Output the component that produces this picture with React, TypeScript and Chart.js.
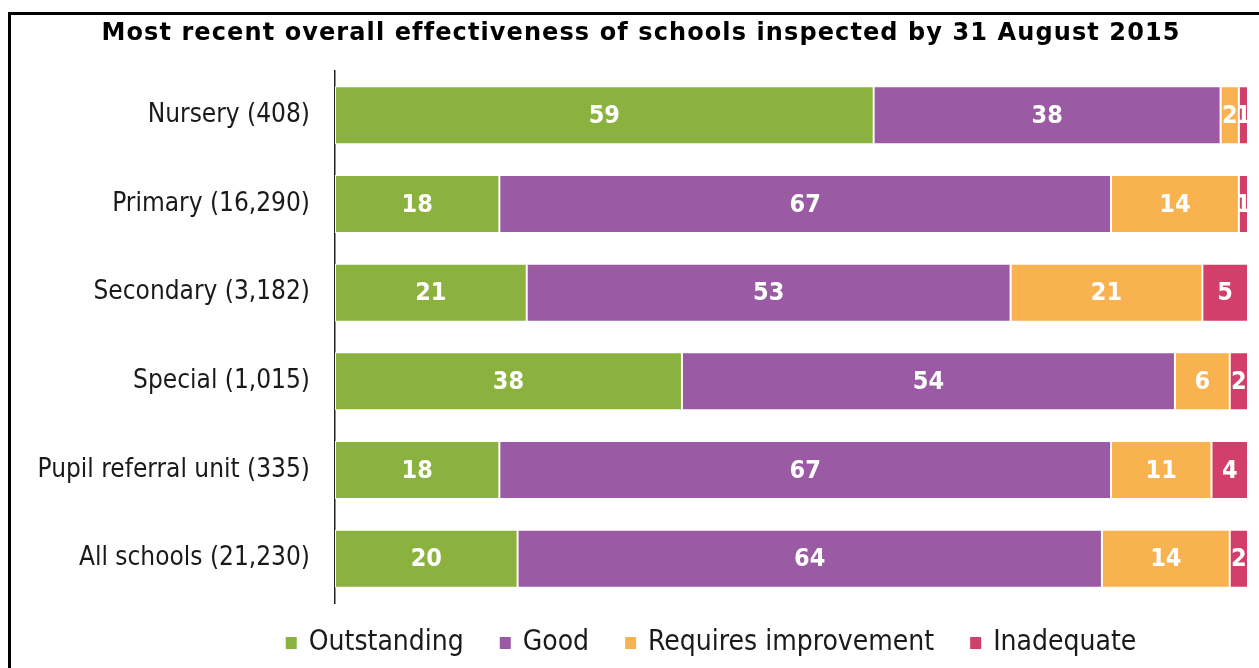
import React, { useEffect, useRef } from "react";
import { Chart, registerables } from "chart.js";

Chart.register(...registerables);

const categories = [
  "Nursery (408)",
  "Primary (16,290)",
  "Secondary (3,182)",
  "Special (1,015)",
  "Pupil referral unit (335)",
  "All schools (21,230)",
];
const outstanding = [59, 18, 21, 38, 18, 20];
const good = [38, 67, 53, 54, 67, 64];
const requiresImprovement = [2, 14, 21, 6, 11, 14];
const inadequate = [1, 1, 5, 2, 4, 2];
const seriesNames = ["Outstanding", "Good", "Requires improvement", "Inadequate"];
const seriesColors = ["#8BB23F", "#9A5BA4", "#F8B24F", "#D13F6A"];
const titleText = "Most recent overall effectiveness of schools inspected by 31 August 2015";

const COND_FONT = "'DejaVu Sans Condensed', 'DejaVu Sans', sans-serif";
const TITLE_FONT = "'DejaVu Sans', sans-serif";

const titlePlugin = {
  id: "centerTitle",
  afterDraw(chart: any) {
    const ctx = chart.ctx;
    ctx.save();
    ctx.font = `bold 24px ${TITLE_FONT}`;
    try {
      (ctx as any).letterSpacing = "1.1px";
    } catch (e) {}
    ctx.fillStyle = "#000";
    ctx.textAlign = "center";
    ctx.textBaseline = "alphabetic";
    ctx.fillText(titleText, 641, 39.5);
    ctx.restore();
  },
};

const legendPlugin = {
  id: "customLegend",
  afterDraw(chart: any) {
    const ctx = chart.ctx;
    ctx.save();
    ctx.font = `28px ${COND_FONT}`;
    const box = 11;
    const boxGap = 12;
    const itemGap = 36;
    const items = chart.data.datasets.map((ds: any) => ({
      text: ds.label,
      color: ds.backgroundColor,
      w: ctx.measureText(ds.label).width,
    }));
    const total =
      items.reduce((s: number, it: any) => s + box + boxGap + it.w, 0) +
      itemGap * (items.length - 1);
    let x = 711 - total / 2;
    const cy = 643;
    ctx.textBaseline = "middle";
    ctx.textAlign = "left";
    items.forEach((it: any) => {
      ctx.fillStyle = it.color;
      ctx.fillRect(x, cy - 6, box, 12);
      ctx.fillStyle = "#1a1a1a";
      ctx.fillText(it.text, x + box + boxGap, cy);
      x += box + boxGap + it.w + itemGap;
    });
    ctx.restore();
  },
};

const valueLabels = {
  id: "valueLabels",
  afterDatasetsDraw(chart: any) {
    const ctx = chart.ctx;
    ctx.save();
    ctx.font = `bold 25px ${COND_FONT}`;
    ctx.fillStyle = "#fff";
    ctx.textAlign = "center";
    ctx.textBaseline = "middle";
    chart.data.datasets.forEach((ds: any, di: number) => {
      const meta = chart.getDatasetMeta(di);
      meta.data.forEach((el: any, i: number) => {
        const p = el.getCenterPoint();
        ctx.fillText(String(ds.data[i]), p.x, p.y + 1);
      });
    });
    ctx.restore();
  },
};

export default function App() {
  const ref = useRef<HTMLCanvasElement>(null);
  useEffect(() => {
    if (!ref.current) return;
    const values = [outstanding, good, requiresImprovement, inadequate];
    const chart = new Chart(ref.current, {
      type: "bar",
      data: {
        labels: categories,
        datasets: values.map((v, i) => ({
          label: seriesNames[i],
          data: v,
          backgroundColor: seriesColors[i],
          borderColor: "#ffffff",
          borderWidth: 1,
          borderSkipped: false,
          categoryPercentage: 1,
          barPercentage: 0.655,
        })),
      },
      options: {
        indexAxis: "y",
        responsive: false,
        animation: false,
        devicePixelRatio: 1,
        layout: { padding: { left: 10, right: 11, top: 71, bottom: 65 } },
        scales: {
          x: {
            stacked: true,
            min: 0,
            max: 100,
            display: false,
          },
          y: {
            stacked: true,
            grid: { display: false, drawTicks: false },
            border: { display: true, color: "#222", width: 1.5 },
            ticks: {
              color: "#1a1a1a",
              font: { family: COND_FONT, size: 26 },
              padding: 25,
            },
            afterFit(scale: any) {
              scale.width = 325;
            },
          },
        },
        plugins: {
          title: { display: false },
          tooltip: { enabled: false },
          legend: { display: false },
        },
      },
      plugins: [titlePlugin, valueLabels, legendPlugin],
    } as any);
    return () => chart.destroy();
  }, []);

  return (
    <div
      style={{
        position: "fixed",
        left: 0,
        top: 0,
        width: 1259,
        height: 668,
        overflow: "hidden",
        background: "#fff",
      }}
    >
      <div
        style={{
          position: "absolute",
          left: 8,
          top: 12,
          width: 1320,
          height: 720,
          border: "3px solid #000",
          boxSizing: "border-box",
        }}
      />
      <canvas
        ref={ref}
        width={1259}
        height={668}
        style={{ position: "absolute", left: 0, top: 0, width: 1259, height: 668 }}
      />
    </div>
  );
}
